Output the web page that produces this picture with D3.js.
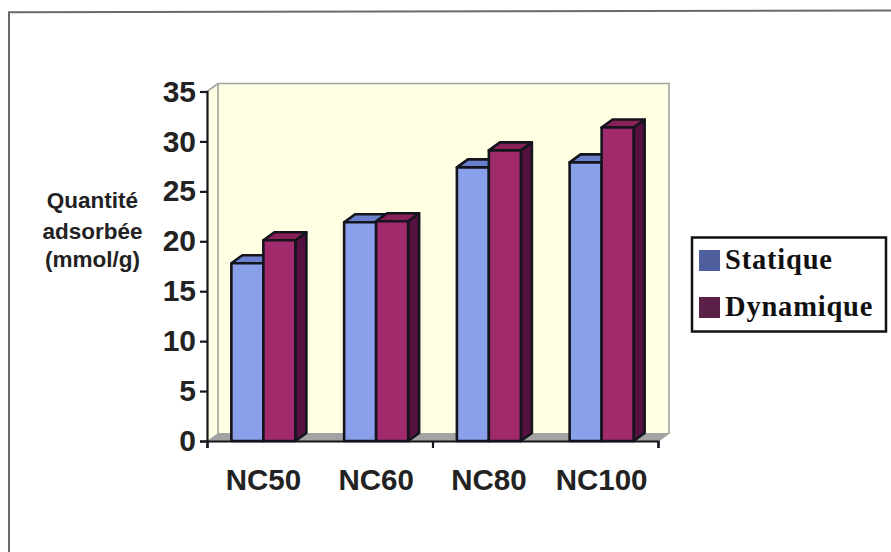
<!DOCTYPE html>
<html><head><meta charset="utf-8">
<script src="https://cdn.jsdelivr.net/npm/d3@7"></script>
<style>html,body{margin:0;padding:0;background:#fff}svg{display:block}</style>
</head><body><svg id="c" width="891" height="552"></svg>
<script>
const categories = ["NC50","NC60","NC80","NC100"];
const statique = [17.8,21.9,27.4,27.9];
const dynamique = [20.1,22.0,29.1,31.4];
const seriesNames = ["Statique","Dynamique"];
const yTicks = [0,5,10,15,20,25,30,35];
const yTitle = ["Quantité","adsorbée","(mmol/g)"];

const svg = d3.select("#c");
const ink = "#14141c", depthX = 11, depthY = 8;
const x = d3.scaleBand().domain(categories).range([207,658]);
const y = d3.scaleLinear().domain([0,35]).range([441,91.5]);
const barW = 32;
const line = d3.line();

// frame: left and top edges only, slightly tilted like the scan
svg.append("path").attr("d","M9,552V12.3L891,10.6").attr("fill","none").attr("stroke","#6a6a6a").attr("stroke-width",2);

// back wall, side wall, floor
const x0=x.range()[0], x1=x.range()[1], yB=y(0), yT=y(35);
svg.append("path").attr("d",line([[x0+depthX,yT-depthY],[x1+depthX,yT-depthY],[x1+depthX,yB-depthY],[x0+depthX,yB-depthY]])+"Z").attr("fill","#ffffe4");
svg.append("path").attr("d",line([[x0,yT],[x0+depthX,yT-depthY],[x0+depthX,yB-depthY],[x0,yB]])+"Z").attr("fill","#ffffe4");
svg.append("path").attr("d",line([[x0,yB],[x0+depthX,yB-depthY],[x1+depthX,yB-depthY],[x1,yB]])+"Z").attr("fill","#a3a3a3");
svg.append("path").attr("d",line([[x0,yT],[x0+depthX,yT-depthY],[x1+depthX,yT-depthY],[x1+depthX,yB-depthY],[x1,yB]])).attr("fill","none").attr("stroke","#a3a3a0").attr("stroke-width",1.6);
svg.append("path").attr("d",line([[x0+depthX,yT-depthY],[x0+depthX,yB-depthY]])).attr("fill","none").attr("stroke","#a3a3a0").attr("stroke-width",1.6);

// bars
const series = [
 {values:statique, front:"#8ba0ea", top:"#6a80cc", side:"#4a5a9a", off:-barW},
 {values:dynamique, front:"#a02a6c", top:"#8a2058", side:"#561040", off:0}
];
categories.forEach((c,i)=>{
  const cx = x(c)+x.bandwidth()/2;
  series.forEach(s=>{
    const l=cx+s.off, r=l+barW, t=y(s.values[i]), b=y(0);
    const g=svg.append("g").attr("stroke",ink).attr("stroke-width",2.6).attr("stroke-linejoin","round");
    g.append("path").attr("d",line([[r,t],[r+depthX,t-depthY],[r+depthX,b-depthY],[r,b]])+"Z").attr("fill",s.side);
    g.append("path").attr("d",line([[l,t],[l+depthX,t-depthY],[r+depthX,t-depthY],[r,t]])+"Z").attr("fill",s.top);
    g.append("rect").attr("x",l).attr("y",t).attr("width",barW).attr("height",b-t).attr("fill",s.front);
  });
});

// axes
const yAxis = d3.axisLeft(y).tickValues(yTicks).tickSize(7).tickPadding(4);
const gy = svg.append("g").attr("transform",`translate(${x0},0)`).call(yAxis);
gy.select(".domain").attr("stroke",ink).attr("stroke-width",2.2);
gy.selectAll("line").attr("stroke",ink).attr("stroke-width",2.2);
gy.selectAll("text").attr("fill","#222").attr("font-family","Liberation Sans").attr("font-weight","bold").attr("font-size",30);

const bx = d3.scaleLinear().domain([0,4]).range([x0,x1]);
const xLine = d3.axisBottom(bx).tickValues([0,2,4]).tickSize(7).tickFormat("");
const gx = svg.append("g").attr("transform",`translate(0,${yB})`).call(xLine);
gx.select(".domain").attr("stroke",ink).attr("stroke-width",2.2);
gx.selectAll("line").attr("stroke",ink).attr("stroke-width",2.2);
svg.append("g").selectAll("text").data(categories).join("text")
 .attr("x",d=>x(d)+x.bandwidth()/2).attr("y",490)
 .attr("text-anchor","middle").attr("fill","#222").attr("font-family","Liberation Sans").attr("font-weight","bold").attr("font-size",29.5)
 .text(d=>d);

// y title
svg.append("g").selectAll("text").data(yTitle).join("text")
 .attr("x",92.5).attr("y",(d,i)=>[208,239,267][i]).attr("text-anchor","middle")
 .attr("fill","#222").attr("font-family","Liberation Sans").attr("font-weight","bold").attr("font-size",22.5)
 .text(d=>d);

// legend
svg.append("rect").attr("x",692).attr("y",237.5).attr("width",194).attr("height",94).attr("fill","#fff").attr("stroke","#111").attr("stroke-width",2.5);
const legendColors=["#4f5f9e","#5a2048"];
seriesNames.forEach((n,i)=>{
  const yy=[260,307][i];
  svg.append("rect").attr("x",699).attr("y",yy-10).attr("width",21).attr("height",21).attr("fill",legendColors[i]);
  svg.append("text").attr("x",725).attr("y",yy+9).attr("font-family","Liberation Serif").attr("font-weight","bold").attr("font-size",28.5).attr("letter-spacing",0.8).attr("fill","#111").text(n);
});
</script></body></html>
